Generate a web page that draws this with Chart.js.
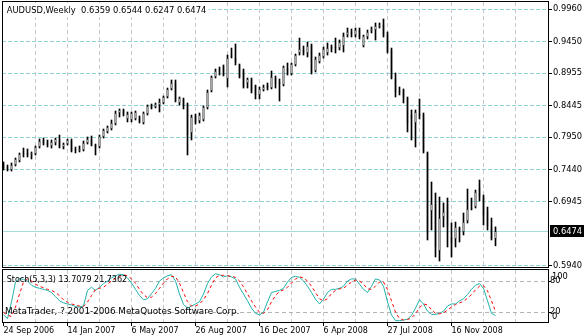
<!DOCTYPE html>
<html><head><meta charset="utf-8">
<script src="https://cdn.jsdelivr.net/npm/chart.js"></script>
<style>
html,body{margin:0;padding:0;background:#fff;}
body{width:584px;height:336px;position:relative;overflow:hidden;}
canvas{position:absolute;left:0;display:block;}
#main{top:0;}
#stoch{top:268px;}
</style></head><body>
<canvas id="main" width="584" height="272"></canvas>
<canvas id="stoch" width="584" height="68"></canvas>
<script>
const symbol = "AUDUSD,Weekly";
const opens = [0.7547,0.7484,0.7437,0.7515,0.7578,0.7704,0.7704,0.7673,0.7688,0.7798,
 0.7908,0.7877,0.7814,0.7861,0.7908,0.7798,0.7845,0.7892,0.7767,0.7735,
 0.7751,0.7861,0.7924,0.7829,0.7798,0.7955,0.8034,0.8081,0.8159,0.8332,
 0.8379,0.8238,0.8222,0.8238,0.8269,0.8175,0.8316,0.8458,0.8426,0.8458,
 0.8489,0.8583,0.8709,0.8803,0.8489,0.8536,0.8473,0.8018,0.8285,0.8206,
 0.8222,0.8411,0.8677,0.8897,0.9023,0.9054,0.8866,0.9242,0.9195,0.9086,
 0.8991,0.8803,0.8866,0.8756,0.8615,0.8693,0.8771,0.8724,0.8881,0.8819,
 0.8771,0.9039,0.8944,0.9086,0.9274,0.9321,0.9274,0.9400,0.8991,0.9133,
 0.9211,0.9274,0.9368,0.9368,0.9352,0.9384,0.9556,0.9604,0.9556,0.9635,
 0.9384,0.9525,0.9619,0.9635,0.9682,0.9714,0.9557,0.9321,0.8866,0.8677,
 0.8693,0.8567,0.8300,0.8175,0.8316,0.8300,0.7704,0.6793,0.6903,0.6165,
 0.6699,0.6903,0.6385,0.6354,0.6526,0.6464,0.6636,0.6840,0.6856,0.7154,
 0.7013,0.6793,0.6542,0.6359];
const highs = [0.7563,0.7515,0.7547,0.7626,0.7704,0.7782,0.7767,0.7720,0.7814,0.7924,
 0.7939,0.7908,0.7908,0.7939,0.7986,0.7861,0.7924,0.7924,0.7798,0.7814,
 0.7892,0.7955,0.7971,0.7845,0.7986,0.8081,0.8128,0.8222,0.8363,0.8395,
 0.8395,0.8348,0.8348,0.8363,0.8285,0.8348,0.8458,0.8473,0.8489,0.8552,
 0.8599,0.8724,0.8850,0.8850,0.8583,0.8567,0.8489,0.8300,0.8316,0.8332,
 0.8442,0.8693,0.8913,0.9023,0.9054,0.9086,0.9242,0.9352,0.9415,0.9101,
 0.9023,0.8881,0.8881,0.8771,0.8740,0.8771,0.8803,0.8991,0.8913,0.8866,
 0.9070,0.9117,0.9117,0.9258,0.9509,0.9384,0.9447,0.9415,0.9211,0.9274,
 0.9368,0.9431,0.9400,0.9509,0.9478,0.9588,0.9666,0.9651,0.9666,0.9666,
 0.9556,0.9635,0.9682,0.9745,0.9745,0.9808,0.9604,0.9352,0.8960,0.8740,
 0.8709,0.8583,0.8379,0.8379,0.8552,0.8332,0.7720,0.7249,0.7076,0.7013,
 0.6919,0.6997,0.6605,0.6620,0.6542,0.6762,0.7139,0.6997,0.7123,0.7280,
 0.7044,0.6856,0.6683,0.6544];
const lows = [0.7437,0.7421,0.7421,0.7500,0.7563,0.7641,0.7641,0.7610,0.7673,0.7782,
 0.7829,0.7798,0.7782,0.7829,0.7782,0.7767,0.7829,0.7720,0.7704,0.7720,
 0.7735,0.7845,0.7814,0.7673,0.7782,0.7939,0.8018,0.8065,0.8144,0.8269,
 0.8285,0.8191,0.8191,0.8222,0.8175,0.8159,0.8300,0.8395,0.8411,0.8348,
 0.8473,0.8567,0.8693,0.8505,0.8458,0.8395,0.7673,0.7908,0.8159,0.8175,
 0.8206,0.8395,0.8662,0.8881,0.8928,0.8913,0.8740,0.9195,0.9086,0.8881,
 0.8724,0.8724,0.8646,0.8552,0.8552,0.8677,0.8693,0.8709,0.8724,0.8520,
 0.8756,0.8928,0.8928,0.9070,0.9242,0.9242,0.9211,0.8944,0.8976,0.9117,
 0.9195,0.9242,0.9290,0.9274,0.9321,0.9290,0.9525,0.9525,0.9525,0.9494,
 0.9368,0.9494,0.9588,0.9478,0.9666,0.9525,0.9274,0.8866,0.8583,0.8615,
 0.8489,0.8034,0.7908,0.7798,0.8238,0.7704,0.6338,0.6495,0.6071,0.6008,
 0.6542,0.6228,0.6071,0.6228,0.6307,0.6417,0.6605,0.6809,0.6840,0.6950,
 0.6574,0.6495,0.6338,0.6247];
const closes = [0.7453,0.7453,0.7515,0.7610,0.7688,0.7688,0.7673,0.7704,0.7798,0.7892,
 0.7861,0.7829,0.7877,0.7924,0.7798,0.7845,0.7908,0.7735,0.7751,0.7767,
 0.7861,0.7924,0.7829,0.7798,0.7971,0.8065,0.8112,0.8175,0.8332,0.8379,
 0.8300,0.8316,0.8332,0.8348,0.8191,0.8332,0.8442,0.8411,0.8473,0.8505,
 0.8583,0.8709,0.8803,0.8520,0.8567,0.8442,0.7986,0.8269,0.8191,0.8300,
 0.8426,0.8662,0.8897,0.8991,0.9007,0.8928,0.9195,0.9211,0.9133,0.8897,
 0.8740,0.8866,0.8677,0.8615,0.8709,0.8740,0.8724,0.8897,0.8787,0.8787,
 0.9054,0.8944,0.9101,0.9242,0.9337,0.9274,0.9384,0.8960,0.9180,0.9242,
 0.9337,0.9352,0.9337,0.9352,0.9447,0.9541,0.9604,0.9572,0.9635,0.9525,
 0.9541,0.9604,0.9651,0.9698,0.9714,0.9557,0.9290,0.8881,0.8662,0.8662,
 0.8583,0.8175,0.8238,0.8348,0.8285,0.7720,0.6448,0.6903,0.6228,0.6683,
 0.6777,0.6542,0.6291,0.6542,0.6479,0.6620,0.6824,0.6824,0.7092,0.7013,
 0.6730,0.6558,0.6354,0.6474];
const stochMain = [15,8,40,78,85,83,80,72,68,66,
 64,62,58,50,42,38,36,34,31,30,
 32,62,68,62,68,75,80,86,90,93,
 92,86,76,64,52,44,46,56,66,80,
 86,90,92,80,55,35,28,32,36,40,
 55,75,88,94,92,88,90,88,84,68,
 55,42,28,18,15,20,40,58,60,62,
 66,78,87,89,87,80,70,58,45,36,
 45,58,64,64,66,70,80,84,84,74,
 64,58,70,84,82,70,40,15,4,4,
 5,7,14,28,44,36,22,16,16,18,
 22,32,36,36,42,46,54,64,72,75,
 66,42,18,13.7079];
const stochSignal = [20,14,12,30,55,78,84,80,74,70,
 67,64,62,58,52,44,39,36,34,32,
 31,40,52,64,66,68,74,80,85,89,
 92,90,84,76,64,54,48,49,56,66,
 76,84,89,88,76,58,40,32,32,36,
 44,56,72,86,91,91,90,89,87,80,
 69,55,42,30,20,18,25,40,52,60,
 63,68,76,84,88,86,80,70,58,46,
 42,46,56,62,65,66,72,78,82,80,
 74,65,64,70,78,78,64,42,20,8,
 5,6,9,17,29,36,34,25,18,17,
 19,24,30,35,38,41,47,54,63,70,
 71,61,42,21.7362];
const priceTicks = [0.9960,0.9450,0.8955,0.8445,0.7950,0.7440,0.6945,0.5940];
const dateLabels = ["24 Sep 2006","14 Jan 2007","6 May 2007","26 Aug 2007","16 Dec 2007","6 Apr 2008","27 Jul 2008","16 Nov 2008"];
const stochLevels = [20, 80];
const stochAxisLabels = [100, 80, 20, 0];
const copyright = "MetaTrader, ? 2001-2006 MetaQuotes Software Corp.";

const FONT = "DejaVu Sans";
Chart.defaults.font.family = FONT;
Chart.defaults.color = '#000';
const X_MIN = -0.375, X_MAX = 136.125;
const Y_MIN = 0.59141, Y_MAX = 1.00746;
const S_MIN = -0.58, S_MAX = 101.15;
const last = closes.length - 1;
const fmt = v => v.toFixed(4);
const HGRID = '#8fd3d6', VGRID = '#c8c8c8', LGRID = '#b4b4b4', BIDLINE = '#a4dcdc';
const CLEAR = 'rgba(0,0,0,0)';

function gridBars(start){ const t=[]; for(let v=start; v<=128; v+=8) t.push({value:v}); return t; }
function fixBox(w,h){ return s => { if(w!==null) s.width=w; if(h!==null) s.height=h; s.paddingLeft=0; s.paddingRight=0; s.paddingTop=0; s.paddingBottom=0; }; }
const isDateTick = v => v % 16 === 0 && dateLabels[v/16] !== undefined;

const mainPlugin = {
  id:'mt4main',
  beforeDatasetsDraw(chart){
    const {ctx, chartArea:a, scales:{y}} = chart;
    const py = Math.round(y.getPixelForValue(closes[last])) + 0.5;
    ctx.save(); ctx.strokeStyle = BIDLINE; ctx.lineWidth = 1; ctx.setLineDash([]);
    ctx.beginPath(); ctx.moveTo(a.left, py); ctx.lineTo(a.right, py); ctx.stroke(); ctx.restore();
  },
  afterDraw(chart){
    const {ctx, scales:{y}} = chart;
    ctx.save();
    ctx.strokeStyle = '#000'; ctx.lineWidth = 1; ctx.setLineDash([]);
    ctx.strokeRect(2.5, 1.5, 546, 266);
    const title = symbol + '  ' + [opens[last], highs[last], lows[last], closes[last]].map(fmt).join(' ');
    ctx.font = '8.4px "DejaVu Sans"';
    const w = ctx.measureText(title).width;
    ctx.fillStyle = '#fff'; ctx.fillRect(3, 3, w + 6, 14);
    ctx.fillStyle = '#000'; ctx.textBaseline = 'middle'; ctx.textAlign = 'left';
    ctx.fillText(title, 6.7, 11);
    const py = y.getPixelForValue(closes[last]);
    ctx.fillStyle = '#000'; ctx.fillRect(550, Math.round(py) - 6, 34, 12);
    ctx.fillStyle = '#fff'; ctx.font = '8.3px "DejaVu Sans"';
    ctx.fillText(fmt(closes[last]), 553, py);
    ctx.restore();
  }
};

new Chart(document.getElementById('main'), {
  type: 'bar',
  data: { datasets: [
    { label:'body', data: opens.map((o,i)=>({x:i, y:[o, closes[i]]})),
      backgroundColor: c => closes[c.dataIndex] >= opens[c.dataIndex] ? '#ffffff' : '#000000',
      borderColor:'#000', borderWidth:1, borderSkipped:false, barThickness:1, maxBarThickness:3,
      minBarLength:1, grouped:false, order:0 },
    { label:'wick', data: lows.map((l,i)=>({x:i, y:[l, highs[i]]})),
      backgroundColor:'#000', borderWidth:0, barThickness:1, maxBarThickness:1, grouped:false, order:1 }
  ]},
  options: {
    responsive:false, animation:false, devicePixelRatio:1,
    layout:{ padding:{ left:2, top:2, right:0, bottom:5 } },
    plugins:{ legend:{display:false}, tooltip:{enabled:false} },
    scales:{
      x:{ type:'linear', min:X_MIN, max:X_MAX, offset:false,
          afterBuildTicks: s => { s.ticks = gridBars(8); },
          afterFit: fixBox(null, 0),
          ticks:{ display:false },
          grid:{ offset:false, color:VGRID, drawTicks:false },
          border:{ display:false, dash:[4,3] } },
      y:{ position:'right', min:Y_MIN, max:Y_MAX, beginAtZero:false,
          afterBuildTicks: s => { s.ticks = priceTicks.map(v=>({value:v})); },
          afterFit: fixBox(36, null),
          ticks:{ autoSkip:false, padding:1, font:{family:FONT, size:8.3}, color:'#000', callback: v => fmt(v) },
          grid:{ color:HGRID, tickLength:4, tickColor:'#000', tickBorderDash:[] },
          border:{ display:false, dash:[4,2] } }
    }
  },
  plugins:[mainPlugin]
});

const stochPlugin = {
  id:'mt4stoch',
  afterDraw(chart){
    const {ctx, scales:{y}} = chart;
    ctx.save();
    ctx.strokeStyle = '#000'; ctx.lineWidth = 1; ctx.setLineDash([]);
    ctx.strokeRect(2.5, 1.5, 546, 53);
    ctx.fillStyle = '#000'; ctx.textBaseline = 'middle'; ctx.textAlign = 'left';
    ctx.font = '8px "DejaVu Sans"';
    ctx.fillText('Stoch(5,3,3) ' + fmt(stochMain[last]) + ' ' + fmt(stochSignal[last]), 6.7, 12);
    ctx.font = '8.8px "DejaVu Sans"';
    ctx.fillText(copyright, 5, 43.5);
    ctx.font = '8.3px "DejaVu Sans"';
    stochAxisLabels.forEach(v => {
      let py = y.getPixelForValue(v);
      if (v === 100) py += 6;
      if (v === 0) py -= 6;
      const px = (v === 80 || v === 20) ? 550 : 552;
      ctx.fillText(String(v), px, py);
    });
    ctx.restore();
  }
};

new Chart(document.getElementById('stoch'), {
  type: 'line',
  data: { datasets: [
    { data: stochSignal.map((v,i)=>({x:i, y:v})), borderColor:'#ff0000', borderWidth:1, borderDash:[3,3],
      pointRadius:0, fill:false, tension:0, order:0 },
    { data: stochMain.map((v,i)=>({x:i, y:v})), borderColor:'#20b2aa', borderWidth:1,
      pointRadius:0, fill:false, tension:0, order:1 }
  ]},
  options: {
    responsive:false, animation:false, devicePixelRatio:1,
    layout:{ padding:{ left:2, top:2, right:0, bottom:0 } },
    plugins:{ legend:{display:false}, tooltip:{enabled:false} },
    scales:{
      x:{ type:'linear', min:X_MIN, max:X_MAX, offset:false,
          afterBuildTicks: s => { s.ticks = gridBars(0); },
          afterFit: fixBox(null, 13),
          ticks:{ autoSkip:false, maxRotation:0, minRotation:0, align:'start', padding:0,
                  font:{family:FONT, size:8}, color:'#000',
                  callback: v => isDateTick(v) ? dateLabels[v/16] : '' },
          grid:{ offset:false, color: c => (c.tick && c.tick.value === 0) ? CLEAR : VGRID,
                 drawTicks:true, tickLength:3, tickBorderDash:[],
                 tickColor: c => (c.tick && isDateTick(c.tick.value)) ? '#000' : CLEAR },
          border:{ display:false, dash:[4,3] } },
      y:{ position:'right', min:S_MIN, max:S_MAX,
          afterBuildTicks: s => { s.ticks = stochLevels.map(v=>({value:v})); },
          afterFit: fixBox(36, null),
          ticks:{ display:false },
          grid:{ color:LGRID, tickLength:3, tickColor:'#000', tickBorderDash:[] },
          border:{ display:false, dash:[4,3] } }
    }
  },
  plugins:[stochPlugin]
});
</script>
</body></html>
